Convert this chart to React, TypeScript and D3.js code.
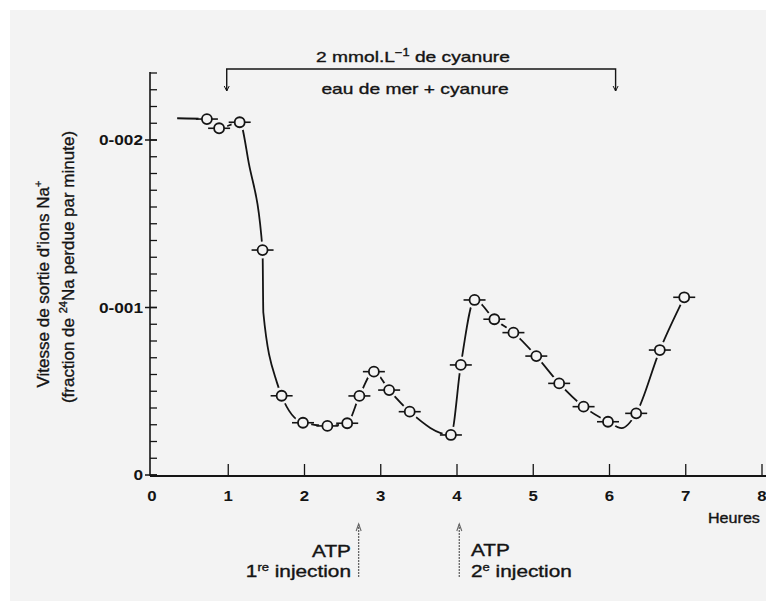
import React from 'react';
import * as d3 from 'd3';

// Data (hours, fraction of Na lost per minute)
const pointHours = [0.72, 0.88, 1.15, 1.45, 1.70, 1.98, 2.30, 2.56, 2.72, 2.91, 3.11, 3.38, 3.92, 4.05, 4.23, 4.49, 4.74, 5.04, 5.34, 5.66, 5.98, 6.35, 6.66, 6.98];
const pointValues = [0.002125, 0.00207, 0.002106, 0.001343, 0.000473, 0.000312, 0.000293, 0.000309, 0.000472, 0.000617, 0.000507, 0.000378, 0.000239, 0.000657, 0.001045, 0.00093, 0.00085, 0.00071, 0.000547, 0.000408, 0.000318, 0.000368, 0.000746, 0.001061];
// Extra knots of the hand-drawn curve
const curveExtraHours = [0.33, 1.27, 1.46, 1.64, 6.16];
const curveExtraValues = [0.00213, 0.00186, 0.00097, 0.00055, 0.00028];

const xTickValues = [0, 1, 2, 3, 4, 5, 6, 7, 8];
const xTickLabels = ['0', '1', '2', '3', '4', '5', '6', '7', '8'];
const yTickValues = [0, 0.001, 0.002];
const yTickLabels = ['0', '0-001', '0-002'];
const yMinorStep = 0.0001;
const yMax = 0.0024;
const cyanideRange = [0.98, 6.08];
const atpInjections = [2.71, 4.03];

const FONT = '"Liberation Sans", Arial, Helvetica, sans-serif';
const INK = '#141414';
const BG = '#f3f3f3';

export default function App() {
  const x = d3.scaleLinear().domain([0, 8]).range([152, 762]);
  const y = d3.scaleLinear().domain([0, yMax]).range([475, 73]);
  const axisX = 150;
  const axisY = 476;

  const points = pointHours.map((h, i) => ({ h, v: pointValues[i] }));
  const curve = [...points, ...curveExtraHours.map((h, i) => ({ h, v: curveExtraValues[i] }))].sort((a, b) => a.h - b.h);
  const line = d3.line<{ h: number; v: number }>().x(d => x(d.h)).y(d => y(d.v)).curve(d3.curveMonotoneX);

  const minorTicks = d3.range(0, yMax + 1e-9, yMinorStep);

  const sx = (cx: number, cy: number, k: number) => `translate(${cx},${cy}) scale(${k},1)`;
  const heavy = { stroke: INK, strokeWidth: 0.35 };

  return (
    <svg width={766} height={601} style={{ position: 'absolute', left: 0, top: 0, display: 'block' }} fontFamily={FONT}>
      <rect x={0} y={0} width={766} height={601} fill="#ffffff" />
      <rect x={10} y={10} width={756} height={591} fill={BG} />

      {/* top bracket */}
      <g stroke={INK} fill="none">
        <path d={`M${x(cyanideRange[0])},91 V69 H${x(cyanideRange[1])} V91`} strokeWidth={1.4} />
        <path d={`M${x(cyanideRange[0]) - 2.5},86 L${x(cyanideRange[0])},91 L${x(cyanideRange[0]) + 2.5},86`} strokeWidth={1} />
        <path d={`M${x(cyanideRange[1]) - 2.5},86 L${x(cyanideRange[1])},91 L${x(cyanideRange[1]) + 2.5},86`} strokeWidth={1} />
      </g>
      <text transform={sx(413, 62, 1.28)} textAnchor="middle" fontSize={15} fill={INK} {...heavy}>
        2 mmol.L<tspan fontSize={10} dy={-6}>−1</tspan><tspan dy={6}> de cyanure</tspan>
      </text>
      <text transform={sx(415, 94, 1.28)} textAnchor="middle" fontSize={15} fill={INK} {...heavy}>eau de mer + cyanure</text>

      {/* y axis */}
      <line x1={axisX} x2={axisX} y1={72} y2={axisY} stroke={INK} strokeWidth={1.6} />
      {minorTicks.map((t, i) => (
        <line key={i} x1={axisX} x2={axisX + 7} y1={y(t)} y2={y(t)} stroke={INK} strokeWidth={1.3} />
      ))}
      {yTickValues.map((t, i) => (
        <g key={i}>
          <line x1={axisX - 5} x2={axisX + 7} y1={y(t)} y2={y(t)} stroke={INK} strokeWidth={1.5} />
          <text transform={sx(143, y(t) + 5, 1.15)} textAnchor="end" fontSize={15} fontWeight="bold" fill={INK}>{yTickLabels[i]}</text>
        </g>
      ))}

      {/* x axis */}
      <line x1={axisX} x2={766} y1={axisY} y2={axisY} stroke={INK} strokeWidth={1.8} />
      {xTickValues.map((t, i) => (
        <g key={i}>
          {t > 0 && <line x1={x(t)} x2={x(t)} y1={axisY} y2={axisY - 12} stroke={INK} strokeWidth={1.3} />}
          <text transform={sx(x(t), 501, 1.12)} textAnchor="middle" fontSize={15} fontWeight="bold" fill={INK}>{xTickLabels[i]}</text>
        </g>
      ))}
      <text transform={sx(708, 523, 1.15)} fontSize={14} fill={INK} {...heavy}>Heures</text>

      {/* y axis title */}
      <text transform="translate(49,284) rotate(-90)" textAnchor="middle" fontSize={17} fill={INK} {...heavy}>
        Vitesse de sortie d'ions Na<tspan fontSize={11} dy={-7}>+</tspan>
      </text>
      <text transform="translate(74,267) rotate(-90)" textAnchor="middle" fontSize={17} fill={INK} {...heavy}>
        (fraction de <tspan fontSize={11} dy={-7}>24</tspan><tspan dy={7}>Na perdue par minute)</tspan>
      </text>

      {/* curve */}
      <path d={line(curve) || ''} fill="none" stroke={INK} strokeWidth={1.8} />
      {points.map((p, i) => (
        <circle key={'h' + i} cx={x(p.h)} cy={y(p.v)} r={8.5} fill={BG} />
      ))}
      {points.map((p, i) => (
        <g key={'p' + i}>
          <line x1={x(p.h) - 11} x2={x(p.h) + 11} y1={y(p.v)} y2={y(p.v)} stroke={INK} strokeWidth={1.6} />
          <circle cx={x(p.h)} cy={y(p.v)} r={5} fill={BG} stroke={INK} strokeWidth={1.8} />
        </g>
      ))}

      {/* ATP injections */}
      {atpInjections.map((h, i) => (
        <g key={i} stroke="#666" fill="none">
          <line x1={x(h)} x2={x(h)} y1={577} y2={524} strokeWidth={1.3} strokeDasharray="2,1" />
          <path d={`M${x(h) - 2.5},531 L${x(h)},524 L${x(h) + 2.5},531`} strokeWidth={1.1} />
        </g>
      ))}
      <text transform={sx(351, 557, 1.3)} textAnchor="end" fontSize={16} fill={INK} {...heavy}>ATP</text>
      <text transform={sx(351, 577, 1.3)} textAnchor="end" fontSize={16} fill={INK} {...heavy}>
        1<tspan fontSize={10} dy={-6}>re</tspan><tspan dy={6}> injection</tspan>
      </text>
      <text transform={sx(471, 556, 1.3)} fontSize={16} fill={INK} {...heavy}>ATP</text>
      <text transform={sx(471, 577, 1.3)} fontSize={16} fill={INK} {...heavy}>
        2<tspan fontSize={10} dy={-6}>e</tspan><tspan dy={6}> injection</tspan>
      </text>
    </svg>
  );
}
